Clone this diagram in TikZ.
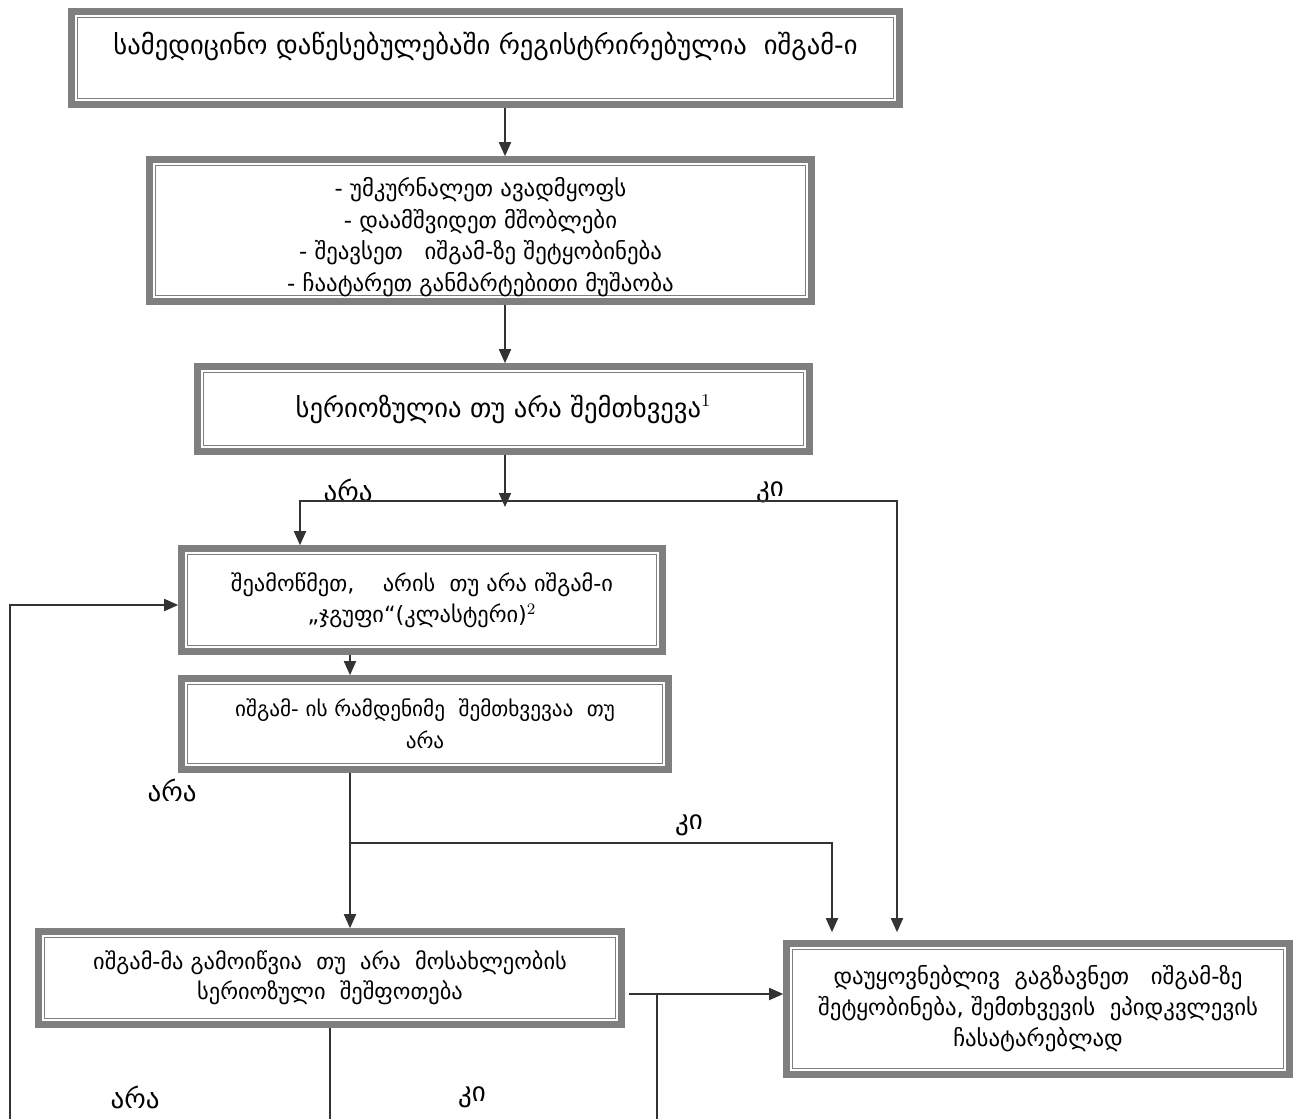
\documentclass[tikz,border=0pt]{standalone}
\usepackage{fontspec}
\setmainfont{DejaVu Sans}
\usetikzlibrary{arrows.meta, calc}
\definecolor{frameGrey}{HTML}{7F7F7F}
\definecolor{lineDark}{HTML}{333333}

\begin{document}
\begin{tikzpicture}[x=0.5pt, y=-0.5pt,
  every node/.style={font=\fontsize{11}{15.5}\selectfont},
  box/.style={draw=frameGrey, line width=3.3pt, fill=white, align=center, inner sep=0pt,
              path picture={\draw[frameGrey, line width=0.7pt]
                ([shift={(3pt,3pt)}]path picture bounding box.south west) rectangle
                ([shift={(-3pt,-3pt)}]path picture bounding box.north east);}},
  bigtext/.style={font=\fontsize{13.3}{15}\selectfont},
  lbl/.style={font=\fontsize{13.5}{15}\selectfont, inner sep=0pt},
  arrow/.style={-{Triangle[length=7pt, width=6pt]}, line width=0.9pt, draw=lineDark},
  link/.style={line width=0.9pt, draw=lineDark}
]
\useasboundingbox (0,0) rectangle (1296,1119);

% boxes
\node[box, bigtext, minimum width=414pt, minimum height=46.5pt] (reg) at (485.5,58)
  {სამედიცინო დაწესებულებაში რეგისტრირებულია~ იშგამ-ი\\ \mbox{}};
\node[box, font=\fontsize{11.4}{15.8}\selectfont, minimum width=331pt, minimum height=71pt] (care) at (480.5,230.5)
  {\rule{0pt}{16pt}- უმკურნალეთ ავადმყოფს\\- დაამშვიდეთ მშობლები\\- შეავსეთ~~ იშგამ-ზე შეტყობინება\\- ჩაატარეთ განმარტებითი მუშაობა};
\node[box, bigtext, minimum width=306pt, minimum height=42.5pt] (serious) at (503.5,409)
  {\raisebox{3pt}{სერიოზულია თუ არა შემთხვევა$^1$}};
\node[box, font=\fontsize{11.2}{15.5}\selectfont, minimum width=240.5pt, minimum height=51.5pt] (cluster) at (422,600)
  {შეამოწმეთ,~~~ არის~ თუ არა იშგამ-ი\\„ჯგუფი“(კლასტერი)$^2$};
\node[box, font=\fontsize{10.6}{16}\selectfont, minimum width=243.5pt, minimum height=45.5pt] (several) at (425,724)
  {იშგამ- ის რამდენიმე~ შემთხვევაა~ თუ\\არა};
\node[box, font=\fontsize{11.2}{15}\selectfont, minimum width=291.5pt, minimum height=46.5pt] (concern) at (330,978)
  {იშგამ-მა გამოიწვია~ თუ~ არა~ მოსახლეობის\\სერიოზული~ შეშფოთება};
\node[box, font=\fontsize{11.4}{15.5}\selectfont, minimum width=251.5pt, minimum height=65.5pt] (notify) at (1038,1009)
  {დაუყოვნებლივ~ გაგზავნეთ~~ იშგამ-ზე\\შეტყობინება, შემთხვევის~ ეპიდკვლევის\\ჩასატარებლად};

% branch labels
\node[lbl] (noA) at (348,490) {არა};
\node[lbl] (yesA) at (770,492) {კი};
\node[lbl] (noB) at (172,790) {არა};
\node[lbl] (yesB) at (689,825) {კი};
\node[lbl] (noC) at (135,1097) {არა};
\node[lbl] (yesC) at (472,1097) {კი};

% routing points
\coordinate (spine) at (505,0);
\coordinate (jA) at (505,501);
\coordinate (colA) at (300,0);
\coordinate (colR) at (897,0);
\coordinate (loopEnd) at (10,1119);
\coordinate (colB) at (350,0);
\coordinate (jB) at (350,843);
\coordinate (colK) at (832,0);
\coordinate (rowC) at (0,994);
\coordinate (colD) at (657,1119);
\coordinate (colE) at (330,1119);

\draw[arrow] (reg.south -| spine) -- (care.north -| spine);
\draw[arrow] (care.south -| spine) -- (serious.north -| spine);
\draw[arrow] (serious.south -| spine) -- ([yshift=-3pt]jA);
\draw[arrow] (jA) -| (cluster.north -| colA);
\draw[arrow, shorten >=4pt] (jA) -| (notify.north -| colR);
\draw[arrow] (loopEnd) |- ([yshift=-2.5pt]cluster.west);
\draw[arrow] (cluster.south -| colB) -- (several.north -| colB);
\draw[arrow] (several.south -| colB) -- (concern.north -| colB);
\draw[arrow, shorten >=4pt] (jB) -| (notify.north -| colK);
\draw[arrow, shorten <=2pt] (concern.east |- rowC) -- (notify.west |- rowC);
\draw[link] (colD |- rowC) -- (colD);
\draw[link] (concern.south -| colE) -- (colE);
\end{tikzpicture}
\end{document}
